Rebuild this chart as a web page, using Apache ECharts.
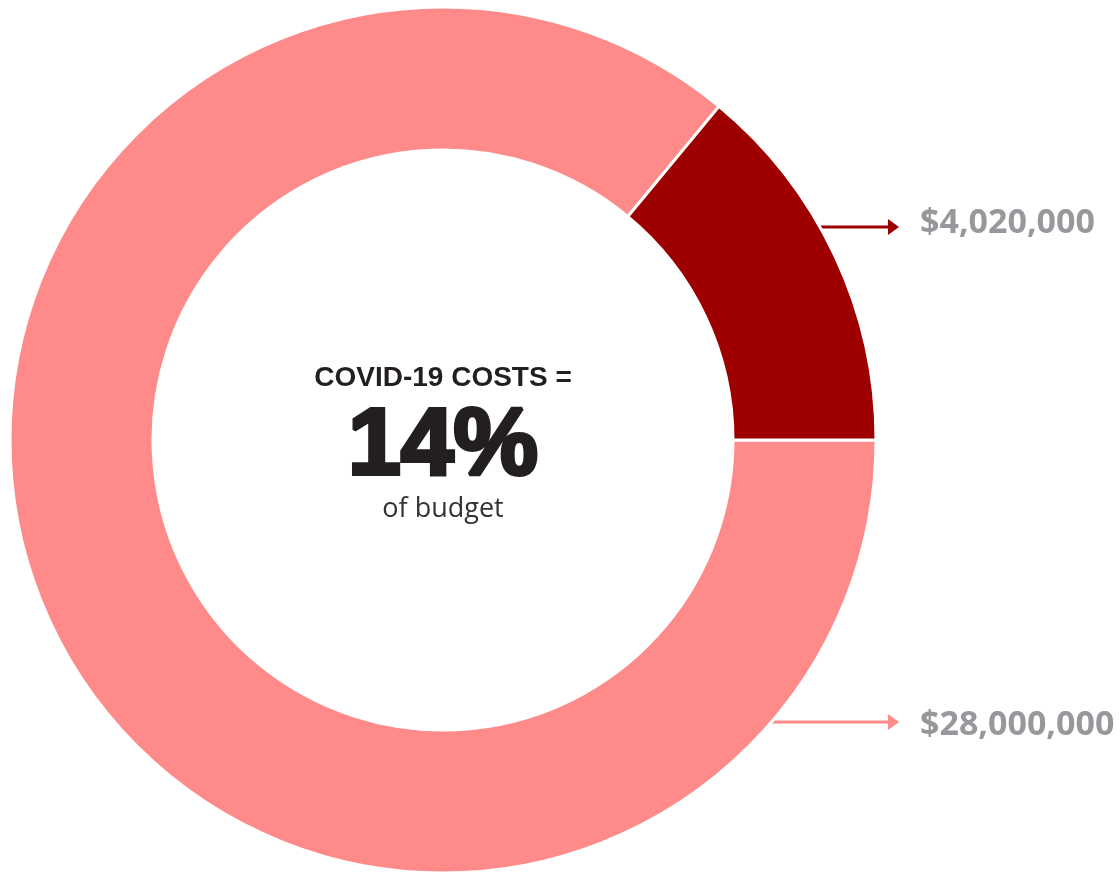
<!DOCTYPE html>
<html>
<head>
<meta charset="utf-8">
<script src="https://cdn.jsdelivr.net/npm/echarts@6/dist/echarts.min.js"></script>
<style>
  html, body { margin: 0; padding: 0; background: #fff; }
  #chart { width: 1120px; height: 873px; }
</style>
</head>
<body>
<div id="chart"></div>
<script>
// slices, in drawing order (clockwise from 3 o'clock)
const sliceNames = ['Rest of budget', 'COVID-19 costs']
const sharePct = [86, 14]
const amountLabels = ['$28,000,000', '$4,020,000']
const sliceColors = ['#FF8A8A', '#9E0000']

// centre text
const headline = 'COVID-19 COSTS ='
const bigNumber = '14%'
const subline = 'of budget'

// layout
const CX = 443
const CY = 440
const R_OUT = 433
const R_IN = 290
const calloutY = [722, 227]   // where each arrow sits
const labelY = [725, 223]
const arrowTipX = 899
const labelX = 920

const chart = echarts.init(document.getElementById('chart'))

// arrows from the outer edge of the ring to the labels, plus the amount text
const callouts = []
calloutY.forEach((y, i) => {
  const dy = y - CY
  const x0 = CX + Math.sqrt(R_OUT * R_OUT - dy * dy) - 3
  callouts.push({
    type: 'line',
    silent: true,
    shape: { x1: x0, y1: y, x2: arrowTipX - 8, y2: y },
    style: { stroke: sliceColors[i], lineWidth: 3 }
  })
  callouts.push({
    type: 'polygon',
    silent: true,
    shape: { points: [[arrowTipX - 11, y - 8], [arrowTipX, y], [arrowTipX - 11, y + 8]] },
    style: { fill: sliceColors[i] }
  })
  callouts.push({
    type: 'text',
    silent: true,
    x: labelX,
    y: labelY[i],
    style: {
      text: amountLabels[i],
      align: 'left',
      verticalAlign: 'middle',
      fill: '#98989c',
      font: 'bold 34px "Open Sans", sans-serif'
    }
  })
})

const option = {
  backgroundColor: '#fff',
  animation: false,
  series: [{
    type: 'pie',
    center: [CX, CY],
    radius: [R_IN, R_OUT],
    startAngle: 0,
    clockwise: true,
    silent: true,
    avoidLabelOverlap: false,
    emphasis: { disabled: true },
    itemStyle: { borderColor: '#fff', borderWidth: 3 },
    label: { show: false },
    labelLine: { show: false },
    data: sliceNames.map((name, i) => ({
      name: name,
      value: sharePct[i],
      itemStyle: { color: sliceColors[i] }
    }))
  }],
  graphic: callouts.concat([
    {
      type: 'text',
      silent: true,
      x: CX,
      y: 378,
      style: {
        text: headline,
        align: 'center',
        verticalAlign: 'middle',
        fill: '#231f20',
        font: 'bold 28px "Liberation Sans", Arial, sans-serif'
      }
    },
    {
      type: 'text',
      silent: true,
      x: CX,
      y: 448,
      style: {
        text: bigNumber,
        align: 'center',
        verticalAlign: 'middle',
        fill: '#231f20',
        stroke: '#231f20',
        lineWidth: 4,
        font: 'bold 95px "Liberation Sans", Arial, sans-serif'
      }
    },
    {
      type: 'text',
      silent: true,
      x: CX,
      y: 509,
      style: {
        text: subline,
        align: 'center',
        verticalAlign: 'middle',
        fill: '#333',
        font: '27px "Open Sans", sans-serif'
      }
    }
  ])
}

chart.setOption(option)
</script>
</body>
</html>
